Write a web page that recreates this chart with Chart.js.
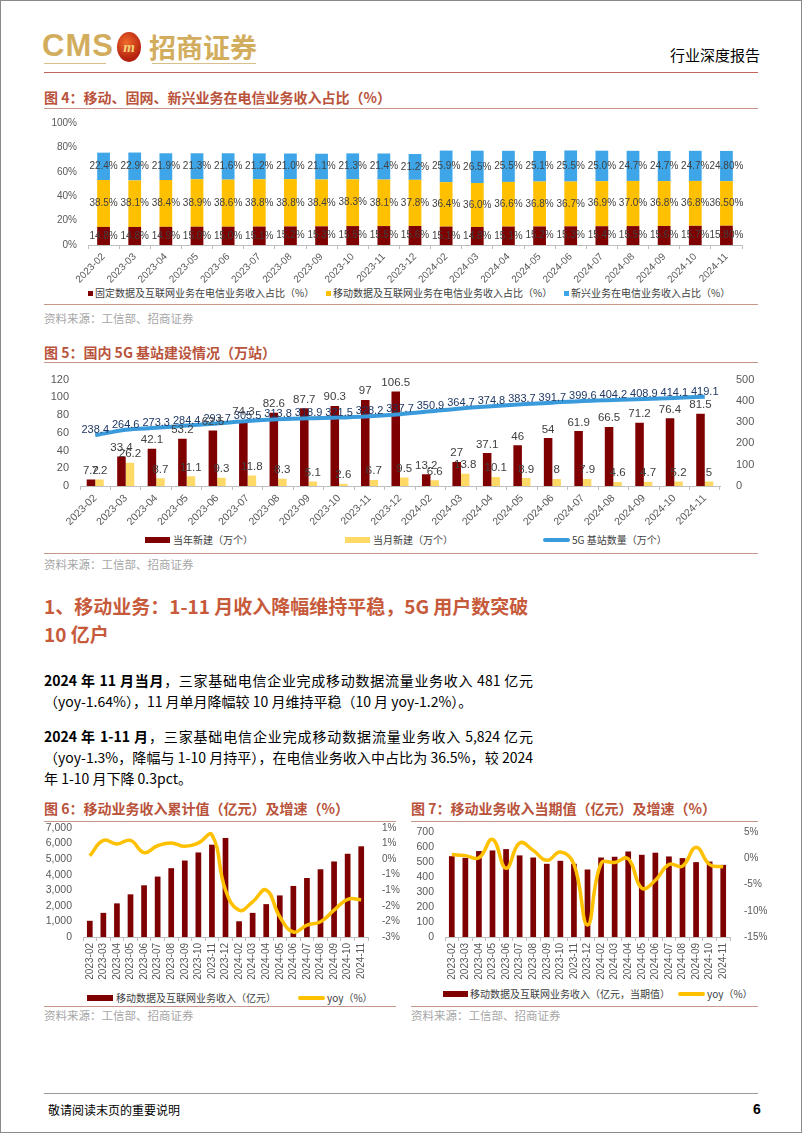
<!DOCTYPE html>
<html>
<head>
<meta charset="utf-8">
<script src="https://cdn.jsdelivr.net/npm/chart.js@4.4.1/dist/chart.umd.min.js"></script>
<style>
html, body { margin: 0; padding: 0; background: #fff; }
body { width: 802px; height: 1133px; position: relative; overflow: hidden;
  font-family: "Noto Sans CJK SC", "Liberation Sans", sans-serif; color: #000; }
.frame { position: absolute; left: 0; top: 0; width: 800px; height: 1131px; border: 1px solid #8a8a8a; }
.rule { position: absolute; height: 0; border-top: 1.5px solid #c8978b; }
.ftitle { position: absolute; font-size: 14px; font-weight: bold; color: #b9533b; white-space: nowrap; line-height: 16px; }
.src { position: absolute; font-size: 11.5px; color: #a6a6a6; white-space: nowrap; line-height: 14px; }
.lg { position: absolute; font-size: 10px; color: #404040; white-space: nowrap; line-height: 12px; }
.mk { position: absolute; }
.para { position: absolute; left: 44px; width: 489px; font-size: 14px; line-height: 21px; white-space: nowrap; }
.just { text-align: justify; text-align-last: justify; }
.head { position: absolute; left: 44px; font-size: 19px; font-weight: bold; color: #c65a3b; line-height: 28px;
  font-family: "Liberation Sans Narrow", "Noto Sans CJK SC", sans-serif; white-space: nowrap; }
canvas { position: absolute; }
</style>
</head>
<body>
<div class="frame"></div>

<!-- header -->
<div style="position:absolute;left:42px;top:28px;font:bold 31px 'Liberation Sans Narrow','Liberation Sans',sans-serif;color:#d2ad5e;letter-spacing:1px">CMS</div>
<div style="position:absolute;left:117px;top:32px;width:24px;height:30px;border-radius:50%;background:radial-gradient(circle at 40% 35%,#f06a2a,#b3200f 70%);color:#f4d27a;font:italic bold 15px 'Liberation Serif',serif;text-align:center;line-height:30px">m</div>
<div style="position:absolute;left:149px;top:27px;font:bold 27px 'Noto Sans CJK SC',sans-serif;color:#d2ad5e;letter-spacing:0px">招商证券</div>
<div style="position:absolute;left:44px;top:63px;width:62px;border-top:1px solid #d9c08a"></div>
<div style="position:absolute;left:152px;top:63px;width:104px;border-top:1px solid #d9c08a"></div>
<div style="position:absolute;right:42px;top:46px;font-size:15px;line-height:18px">行业深度报告</div>
<div class="rule" style="left:44px;top:72px;width:714px;border-top:1px solid #c0665a"></div>

<!-- figure 4 -->
<div class="ftitle" style="left:44px;top:89px">图 4：移动、固网、新兴业务在电信业务收入占比（%）</div>
<div class="rule" style="left:44px;top:108px;width:714px"></div>
<canvas id="c1" width="740" height="172" style="left:40px;top:112px"></canvas>
<div class="rule" style="left:44px;top:304px;width:714px"></div>
<div class="src" style="left:44px;top:311px">资料来源：工信部、招商证券</div>

<!-- figure 5 -->
<div class="ftitle" style="left:44px;top:344px">图 5：国内 5G 基站建设情况（万站）</div>
<div class="rule" style="left:44px;top:362px;width:714px"></div>
<canvas id="c2" width="740" height="165" style="left:40px;top:365px"></canvas>
<div class="rule" style="left:44px;top:553px;width:714px"></div>
<div class="src" style="left:44px;top:557px">资料来源：工信部、招商证券</div>

<!-- text -->
<div class="head" style="top:592px">1、移动业务：1-11 月收入降幅维持平稳，5G 用户数突破</div>
<div class="head" style="top:620px">10 亿户</div>

<div class="para just" style="top:670px"><b>2024 年 11 月当月</b>，三家基础电信企业完成移动数据流量业务收入 481 亿元</div>
<div class="para" style="top:691px">（yoy-1.64%），11 月单月降幅较 10 月维持平稳（10 月 yoy-1.2%）。</div>
<div class="para just" style="top:726px"><b>2024 年 1-11 月</b>，三家基础电信企业完成移动数据流量业务收入 5,824 亿元</div>
<div class="para just" style="top:747px">（yoy-1.3%，降幅与 1-10 月持平），在电信业务收入中占比为 36.5%，较 2024</div>
<div class="para" style="top:768px">年 1-10 月下降 0.3pct。</div>

<!-- figure 6 / 7 -->
<div class="ftitle" style="left:44px;top:800px">图 6：移动业务收入累计值（亿元）及增速（%）</div>
<div class="ftitle" style="left:411px;top:800px">图 7：移动业务收入当期值（亿元）及增速（%）</div>
<div class="rule" style="left:44px;top:821px;width:352px"></div>
<div class="rule" style="left:411px;top:821px;width:347px"></div>
<canvas id="c3" width="360" height="166" style="left:40px;top:816px"></canvas>
<canvas id="c4" width="375" height="166" style="left:405px;top:816px"></canvas>
<div class="rule" style="left:44px;top:1006px;width:352px"></div>
<div class="rule" style="left:411px;top:1006px;width:347px"></div>
<div class="src" style="left:44px;top:1008px">资料来源：工信部、招商证券</div>
<div class="src" style="left:411px;top:1008px">资料来源：工信部、招商证券</div>

<!-- footer -->
<div style="position:absolute;left:44px;top:1093px;width:714px;border-top:1px solid #9a9a9a"></div>
<div style="position:absolute;left:48px;top:1102px;font-size:12px;line-height:15px">敬请阅读末页的重要说明</div>
<div style="position:absolute;left:753px;top:1101px;font:bold 14px 'Liberation Sans',sans-serif">6</div>

<div id="legends"></div>

<script>
// categories
var months = ["2023-02","2023-03","2023-04","2023-05","2023-06","2023-07","2023-08","2023-09","2023-10","2023-11","2023-12",
              "2024-02","2024-03","2024-04","2024-05","2024-06","2024-07","2024-08","2024-09","2024-10","2024-11"];

// fig 4: share of telecom revenue (%)
var shareNames = ["固定数据及互联网业务在电信业务收入占比（%）", "移动数据及互联网业务在电信业务收入占比（%）", "新兴业务在电信业务收入占比（%）"];
var fixedShare  = [14.8,14.8,14.9,15.0,15.0,15.1,15.2,15.3,15.5,15.5,15.6,15.1,14.8,15.1,15.2,15.3,15.4,15.5,15.6,15.7,15.8];
var mobileShare = [38.5,38.1,38.4,38.9,38.6,38.8,38.8,38.4,38.3,38.1,37.8,36.4,36.0,36.6,36.8,36.7,36.9,37.0,36.8,36.8,36.5];
var newShare    = [22.4,22.9,21.9,21.3,21.6,21.2,21.0,21.1,21.3,21.4,21.2,25.9,26.5,25.5,25.1,25.5,25.0,24.7,24.7,24.7,24.8];

// fig 5: 5G base stations (10k)
var bsNames = ["当年新建（万个）", "当月新建（万个）", "5G 基站数量（万个）"];
var bsYear  = [7.2,33.4,42.1,53.2,62.5,74.3,82.6,87.7,90.3,97,106.5,13.2,27,37.1,46,54,61.9,66.5,71.2,76.4,81.5];
var bsMonth = [7.2,26.2,8.7,11.1,9.3,11.8,8.3,5.1,2.6,6.7,9.5,6.6,13.8,10.1,8.9,8,7.9,4.6,4.7,5.2,5];
var bsTotal = [238.4,264.6,273.3,284.4,293.7,305.5,313.8,318.9,321.5,328.2,337.7,350.9,364.7,374.8,383.7,391.7,399.6,404.2,408.9,414.1,419.1];

// fig 6: cumulative mobile revenue (100m yuan) and yoy (%)
var cumNames = ["移动数据及互联网业务收入（亿元）", "yoy（%）"];
var cumRevenue = [1040,1550,2160,2740,3320,3880,4420,4910,5430,5930,6360,1010,1550,2110,2670,3280,3790,4350,4850,5345,5824];
var cumYoy     = [0.11,0.60,0.49,0.60,0.21,0.43,0.52,0.41,0.52,0.78,-0.99,-1.64,-1.37,-0.99,-1.85,-2.34,-2.12,-2.01,-1.64,-1.29,-1.30];

// fig 7: monthly mobile revenue (100m yuan) and yoy (%)
var monNames = ["移动数据及互联网业务收入（亿元，当期值）", "yoy（%）"];
var monRevenue = [539,528,573,577,586,544,530,488,508,488,450,530,535,570,548,562,537,526,499,503,481];
var monYoy     = [0.7,0.5,0.1,3.6,-1.9,2.9,1.5,-0.4,1.2,-1.1,-12.7,-1.0,-0.8,-0.1,-5.7,-4.2,-1.2,-1.5,2.1,-1.2,-1.64];

var RED = "#7f0000", GOLD = "#ffc000", BLUE = "#3ea6e8", PALE = "#ffd966", LBLUE = "#3a9bdc";

Chart.defaults.font.family = '"Liberation Sans", Arial, "Noto Sans CJK SC", sans-serif';
Chart.defaults.color = "#595959";
Chart.defaults.animation = false;

// draws value labels on top of the marks
var valueLabels = {
  id: "valueLabels",
  afterDatasetsDraw: function (chart) {
    var ctx = chart.ctx;
    chart.data.datasets.forEach(function (ds, i) {
      var lab = ds.valueLabel;
      if (!lab) return;
      var meta = chart.getDatasetMeta(i);
      ctx.save();
      ctx.font = lab.font;
      ctx.fillStyle = lab.color;
      ctx.textAlign = "center";
      meta.data.forEach(function (el, j) {
        var txt = lab.format(ds.data[j], j), y;
        if (lab.pos === "center") { y = (el.y + el.base) / 2; ctx.textBaseline = "middle"; }
        else if (lab.pos === "top") { y = el.y - 3; ctx.textBaseline = "bottom"; }
        else { y = el.y + (lab.dy || 0); ctx.textBaseline = "middle"; }
        ctx.fillText(txt, el.x, y);
      });
      ctx.restore();
    });
  }
};

function pct(v, j) { return v.toFixed(j === months.length - 1 ? 2 : 1) + "%"; }
function plain(v) { return String(v); }
function fixW(w) { return function (s) { s.width = w; }; }
function fixH(h) { return function (s) { s.height = h; }; }

function xAxis(rot, size, h, stacked) {
  return {
    stacked: !!stacked,
    grid: { display: true, drawOnChartArea: false, offset: true, tickLength: 4, color: "#bfbfbf" },
    border: { color: "#bfbfbf" },
    ticks: { autoSkip: false, minRotation: rot, maxRotation: rot, font: { size: size }, color: "#595959", padding: 2 },
    afterFit: fixH(h)
  };
}

var common = {
  responsive: false,
  plugins: { legend: { display: false }, tooltip: { enabled: false } }
};

// ---------- figure 4 ----------
new Chart(document.getElementById("c1"), {
  type: "bar",
  data: {
    labels: months,
    datasets: [
      { label: shareNames[0], data: fixedShare, backgroundColor: RED, categoryPercentage: 1, barPercentage: 0.41,
        valueLabel: { pos: "center", font: "10px 'Liberation Sans'", color: "#404040", format: pct } },
      { label: shareNames[1], data: mobileShare, backgroundColor: GOLD, categoryPercentage: 1, barPercentage: 0.41,
        valueLabel: { pos: "center", font: "10px 'Liberation Sans'", color: "#404040", format: pct } },
      { label: shareNames[2], data: newShare, backgroundColor: BLUE, categoryPercentage: 1, barPercentage: 0.41,
        valueLabel: { pos: "center", font: "10px 'Liberation Sans'", color: "#404040", format: pct } }
    ]
  },
  options: Object.assign({}, common, {
    layout: { padding: { top: 11, right: 38, left: 0, bottom: 0 } },
    scales: {
      x: xAxis(45, 10, 39, true),
      y: { stacked: true, min: 0, max: 100, ticks: { stepSize: 20, autoSkip: false, font: { size: 10 }, callback: function (v) { return v + "%"; } },
           grid: { display: false }, border: { display: false }, afterFit: fixW(48) }
    }
  }),
  plugins: [valueLabels]
});

// ---------- figure 5 ----------
new Chart(document.getElementById("c2"), {
  type: "bar",
  data: {
    labels: months,
    datasets: [
      { type: "line", label: bsNames[2], data: bsTotal, yAxisID: "y1", borderColor: LBLUE, borderWidth: 4,
        pointRadius: 0, tension: 0.3, order: 0,
        valueLabel: { pos: "line", dy: -5, font: "11px 'Liberation Sans'", color: "#1f3864", format: plain } },
      { label: bsNames[0], data: bsYear, backgroundColor: RED, categoryPercentage: 0.56, barPercentage: 1, order: 1,
        valueLabel: { pos: "top", font: "11.5px 'Liberation Sans'", color: "#404040", format: plain } },
      { label: bsNames[1], data: bsMonth, backgroundColor: PALE, categoryPercentage: 0.56, barPercentage: 1, order: 1,
        valueLabel: { pos: "top", font: "11.5px 'Liberation Sans'", color: "#404040", format: plain } }
    ]
  },
  options: Object.assign({}, common, {
    layout: { padding: { top: 12, right: 0, left: 0, bottom: 0 } },
    scales: {
      x: xAxis(45, 10.5, 44),
      y: { position: "left", min: 0, max: 120, ticks: { stepSize: 20, autoSkip: false, font: { size: 11 } },
           grid: { display: false }, border: { display: false }, afterFit: fixW(40) },
      y1: { position: "right", min: 0, max: 500, ticks: { stepSize: 100, autoSkip: false, font: { size: 11 }, padding: 8 },
            grid: { display: false }, border: { display: false }, afterFit: fixW(60) }
    }
  }),
  plugins: [valueLabels]
});

// ---------- figure 6 / 7 ----------
function yoyTick(v) {
  var a = Math.round(Math.abs(v) * 10) / 10;
  var r = Math.round(a);
  return (v < 0 && r !== 0 ? "-" : "") + r + "%";
}

function revenueChart(id, names, bars, yoy, left, right, padTop, leftW, rightW) {
  new Chart(document.getElementById(id), {
    type: "bar",
    data: {
      labels: months,
      datasets: [
        { type: "line", label: names[1], data: yoy, yAxisID: "y1", borderColor: GOLD, borderWidth: 3.5,
          pointRadius: 0, tension: 0.45, order: 0 },
        { label: names[0], data: bars, backgroundColor: RED, categoryPercentage: 1, barPercentage: 0.42, order: 1 }
      ]
    },
    options: Object.assign({}, common, {
      layout: { padding: { top: padTop, right: 0, left: 0, bottom: 0 } },
      scales: {
        x: xAxis(90, 10, 45),
        y: { position: "left", min: left[0], max: left[1],
             ticks: { stepSize: left[2], autoSkip: false, font: { size: 10.5 }, callback: function (v) { return v.toLocaleString("en-US"); } },
             grid: { display: false }, border: { display: false }, afterFit: fixW(leftW) },
        y1: { position: "right", min: right[0], max: right[1],
              ticks: { stepSize: right[2], autoSkip: false, font: { size: 10 }, padding: 6, callback: yoyTick },
              grid: { display: false }, border: { display: false }, afterFit: fixW(rightW) }
      }
    })
  });
}

revenueChart("c3", cumNames, cumRevenue, cumYoy, [0, 7000, 1000], [-2.5, 1.0, 0.5], 12, 43, 32);
revenueChart("c4", monNames, monRevenue, monYoy, [0, 700, 100], [-15, 5, 5], 16, 40, 50);

// ---------- legends (html) ----------
var lgHost = document.getElementById("legends");
function legendItem(x, yc, kind, color, text, mw, mh, gap) {
  var m = document.createElement("div");
  m.className = "mk";
  m.style.left = x + "px";
  m.style.top = (yc - mh / 2) + "px";
  m.style.width = mw + "px";
  m.style.height = mh + "px";
  m.style.background = color;
  if (kind === "line") m.style.borderRadius = "2px";
  lgHost.appendChild(m);
  var t = document.createElement("div");
  t.className = "lg";
  t.textContent = text;
  t.style.left = (x + mw + gap) + "px";
  t.style.top = (yc - 6) + "px";
  lgHost.appendChild(t);
}
legendItem(88, 293, "box", RED, shareNames[0], 5, 5, 2);
legendItem(326, 293, "box", GOLD, shareNames[1], 5, 5, 2);
legendItem(564, 293, "box", BLUE, shareNames[2], 5, 5, 2);

legendItem(145, 540, "box", RED, bsNames[0], 25, 6, 3);
legendItem(345, 540, "box", PALE, bsNames[1], 25, 6, 3);
legendItem(543, 540, "line", LBLUE, bsNames[2], 27, 3.5, 2);

legendItem(87, 998, "box", RED, cumNames[0], 26, 6, 3);
legendItem(298, 998, "line", GOLD, cumNames[1], 27, 3.5, 2);

legendItem(443, 994, "box", RED, monNames[0], 25, 6, 2);
legendItem(678, 994, "line", GOLD, monNames[1], 27, 3.5, 2);
</script>
</body>
</html>
